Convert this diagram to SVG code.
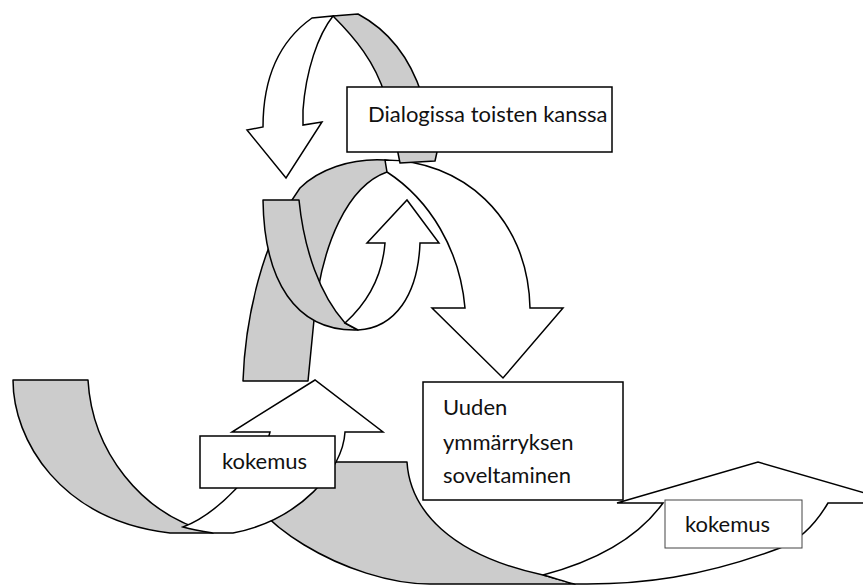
<svg xmlns="http://www.w3.org/2000/svg" width="863" height="586" viewBox="0 0 863 586">
<style>
.back{fill:#cccccc;stroke:#000;stroke-width:1.5;stroke-linejoin:round}
.front{fill:#ffffff;stroke:#000;stroke-width:1.5;stroke-linejoin:miter}
.box{fill:#ffffff;stroke:#000;stroke-width:1.5}
.box2{fill:#ffffff;stroke:#444;stroke-width:1}
.lbl{font-family:Lato,"Open Sans","Liberation Sans",sans-serif;font-size:22px;fill:#111}
</style>
<rect width="863" height="586" fill="#ffffff"/>
<g id="connectors">
  <g id="spiral-bottom-right">
    <path class="back" d="M237,462 L407,462 C410,510 450,555 543,575 C555,578 565,582 575,584 L430,584 C350,584 238,520 237,462 Z"/>
    <path class="front" d="M543,575 C600,560 640,535 663,503 L617,503 L758,462 L899,503 L828,503 C815,525 800,540 780,548 C700,578 640,584 587,584 L575,584 C565,582 555,578 543,575 Z"/>
  </g>
  <g id="spiral-bottom-left">
    <path class="back" d="M13,380 L88,380 C92,450 140,515 213,533 L170,533 C60,520 13,440 13,380 Z"/>
    <path class="front" d="M183,527 C215,515 262,470 270,432 L232,432 L315,380 L383,432 L345,432 C343,470 300,520 233,533 L213,533 C200,531 190,529 183,527 Z"/>
  </g>
  <g id="spiral-middle-outer">
    <path class="back" d="M243,381 C245,320 262,240 300,188 C318,170 350,158 385,160 L396,162 L387,172 C350,185 320,240 313,330 L308,381 Z"/>
    <path class="front" d="M385,160 C460,160 528,215 530,308 L563,308 L503,378 L432,308 L465,308 C460,250 430,200 387,172 Z"/>
  </g>
  <g id="spiral-middle-inner">
    <path class="back" d="M263,200 L299,200 C304,250 320,295 345,323 L358,330 C295,332 264,280 263,200 Z"/>
    <path class="front" d="M345,323 C365,305 382,280 385,243 L367,243 L407,200 L439,243 L420,243 C418,295 395,328 358,330 Z"/>
  </g>
  <g id="arrow-top">
    <path class="back" d="M333,16 L358,14 C388,30 410,58 422,95 L437,152 L435,161 L400,163 L398,153 L385,95 C375,62 355,38 333,16 Z"/>
    <path class="front" d="M312,18 L333,16 C318,35 306,70 303,110 L303,125 L322,122 L286,178 L247,130 L263,127 C263,80 278,42 312,18 Z"/>
  </g>
</g>
<g id="node-dialogissa">
  <rect class="box" x="347" y="87" width="265" height="65"/>
  <text class="lbl" x="368" y="122">Dialogissa toisten kanssa</text>
</g>
<g id="node-kokemus-1">
  <rect class="box" x="200" y="436" width="135" height="52"/>
  <text class="lbl" x="222" y="469">kokemus</text>
</g>
<g id="node-uuden">
  <rect class="box" x="423" y="382" width="200" height="118"/>
  <text class="lbl" x="443" y="415">Uuden</text>
  <text class="lbl" x="443" y="450">ymmärryksen</text>
  <text class="lbl" x="443" y="483">soveltaminen</text>
</g>
<g id="node-kokemus-2">
  <rect class="box2" x="665" y="500" width="137" height="48"/>
  <text class="lbl" x="685" y="532">kokemus</text>
</g>
</svg>
